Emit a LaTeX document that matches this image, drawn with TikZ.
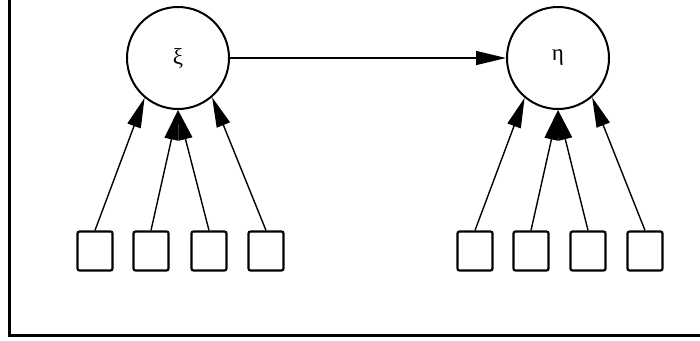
\documentclass[tikz,border=0pt]{standalone}
\usepackage{fontspec}
\setmainfont{Liberation Serif}
\usetikzlibrary{arrows.meta}
\begin{document}
\begin{tikzpicture}[x=1pt,y=-1pt,
  latent/.style={circle,draw,line width=2pt,minimum size=102pt,inner sep=0pt,font=\fontsize{23}{25}\selectfont},
  indic/.style={draw,line width=2.2pt,rounded corners=2pt,minimum width=35pt,minimum height=39pt,inner sep=0pt},
  arr/.style={line width=1.4pt,-{Triangle[length=30pt,width=14pt]}}]
\useasboundingbox (0,0) rectangle (700,340);
\draw[line width=3pt] (9,0) -- (9,335) -- (700,335);
\node[latent] (xi) at (178,58) {ξ};
\node[latent] (eta) at (558,58) {η};
\foreach \n/\x in {a/95,b/151,c/209,d/266}{\node[indic] (l\n) at (\x,251) {};}
\foreach \n/\x in {a/475,b/531,c/588,d/645}{\node[indic] (r\n) at (\x,251) {};}
\draw[arr] (xi.east) -- (eta.west);
\draw[arr] (la.north) -- (xi.-130);
\draw[arr] (lb.north) -- (xi.-90);
\draw[arr] (lc.north) -- (xi.-90);
\draw[arr] (ld.north) -- (xi.-49);
\draw[arr] (ra.north) -- (eta.-130);
\draw[arr] (rb.north) -- (eta.-90);
\draw[arr] (rc.north) -- (eta.-90);
\draw[arr] (rd.north) -- (eta.-49);
\end{tikzpicture}
\end{document}
